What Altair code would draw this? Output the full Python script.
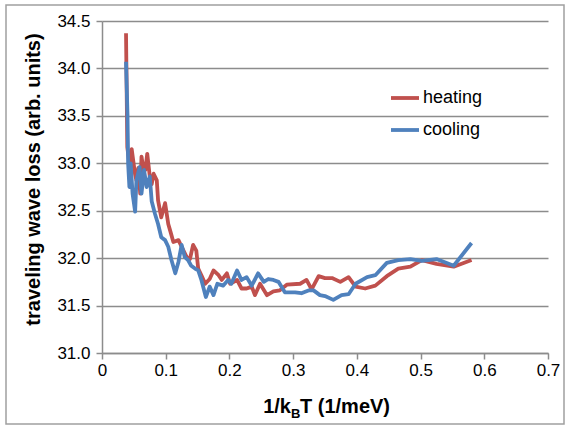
import altair as alt
import pandas as pd

# heating run: 1/kBT (1/meV) and traveling wave loss (arb. units)
heat_x = [0.0377, 0.0390, 0.0397, 0.0420, 0.0440, 0.0466, 0.0490, 0.0520, 0.0540, 0.0570,
          0.0600, 0.0620, 0.0650, 0.0680, 0.0710, 0.0750, 0.0780, 0.0810, 0.0860, 0.0880,
          0.0930, 0.0990, 0.1040, 0.1070, 0.1120, 0.1200, 0.1250, 0.1330, 0.1380, 0.1430,
          0.1480, 0.1510, 0.1560, 0.1620, 0.1690, 0.1750, 0.1830, 0.1880, 0.1960, 0.2010,
          0.2120, 0.2190, 0.2270, 0.2350, 0.2400, 0.2480, 0.2590, 0.2690, 0.2790, 0.2900,
          0.3110, 0.3210, 0.3290, 0.3400, 0.3500, 0.3610, 0.3740, 0.3870, 0.3980, 0.4130,
          0.4290, 0.4470, 0.4650, 0.4840, 0.5020, 0.5250, 0.5520, 0.5800]
heat_y = [34.37, 33.60, 33.17, 33.05, 32.90, 33.15, 33.03, 32.88, 32.82, 32.95,
          32.68, 33.07, 32.94, 32.93, 33.10, 32.86, 32.78, 32.89, 32.82, 32.61,
          32.43, 32.58, 32.36, 32.29, 32.17, 32.19, 32.12, 32.01, 31.99, 32.14,
          32.08, 31.89, 31.82, 31.73, 31.78, 31.87, 31.82, 31.77, 31.84, 31.73,
          31.77, 31.68, 31.68, 31.70, 31.61, 31.73, 31.61, 31.65, 31.66, 31.72,
          31.73, 31.77, 31.67, 31.81, 31.79, 31.79, 31.75, 31.80, 31.70, 31.68,
          31.71, 31.81, 31.89, 31.91, 31.98, 31.94, 31.91, 31.98]

# cooling run
cool_x = [0.0377, 0.0400, 0.0410, 0.0430, 0.0450, 0.0480, 0.0520, 0.0540, 0.0590, 0.0620,
          0.0660, 0.0700, 0.0750, 0.0780, 0.0830, 0.0880, 0.0930, 0.0990, 0.1040, 0.1090,
          0.1150, 0.1200, 0.1250, 0.1300, 0.1350, 0.1400, 0.1460, 0.1510, 0.1560, 0.1630,
          0.1690, 0.1750, 0.1810, 0.1900, 0.1980, 0.2030, 0.2120, 0.2190, 0.2270, 0.2350,
          0.2450, 0.2540, 0.2610, 0.2690, 0.2770, 0.2870, 0.3030, 0.3130, 0.3240, 0.3320,
          0.3420, 0.3500, 0.3630, 0.3760, 0.3870, 0.3980, 0.4160, 0.4290, 0.4470, 0.4650,
          0.4840, 0.5020, 0.5250, 0.5520, 0.5800]
cool_y = [34.07, 33.52, 33.00, 32.75, 33.00, 32.68, 32.49, 32.82, 32.96, 32.68,
          32.93, 32.75, 32.86, 32.60, 32.47, 32.36, 32.22, 32.19, 32.12, 31.98,
          31.84, 31.96, 32.14, 32.01, 31.98, 31.92, 31.89, 31.87, 31.77, 31.59,
          31.70, 31.61, 31.73, 31.71, 31.77, 31.73, 31.87, 31.77, 31.80, 31.71,
          31.84, 31.75, 31.78, 31.77, 31.75, 31.64, 31.64, 31.63, 31.66, 31.66,
          31.61, 31.60, 31.56, 31.61, 31.62, 31.73, 31.80, 31.82, 31.95, 31.98,
          31.99, 31.97, 31.99, 31.92, 32.16]

series_names = ["heating", "cooling"]
series_colors = ["#C0504D", "#4F81BD"]
x_ticks = [0, 0.1, 0.2, 0.3, 0.4, 0.5, 0.6, 0.7]
y_ticks = [31.0, 31.5, 32.0, 32.5, 33.0, 33.5, 34.0, 34.5]

rows = []
for i, (xv, yv) in enumerate(zip(heat_x, heat_y)):
    rows.append({"x": xv, "y": yv, "run": "heating", "i": i})
for i, (xv, yv) in enumerate(zip(cool_x, cool_y)):
    rows.append({"x": xv, "y": yv, "run": "cooling", "i": i})
df = pd.DataFrame(rows)

FONT = "Liberation Sans"
GRAY = "#8c8c8c"
W, H = 446, 332

lines = alt.Chart(df).mark_line(strokeWidth=3.8, strokeJoin="round").encode(
    x=alt.X("x:Q", scale=alt.Scale(domain=[0, 0.7], nice=False),
            axis=alt.Axis(values=x_ticks, format="~f", title=None, grid=False,
                          labelFlush=False,
                          tickSize=6, labelPadding=3, labelFontSize=17,
                          labelFont=FONT, labelColor="#000", domainColor=GRAY,
                          tickColor=GRAY, domainWidth=1.5, tickWidth=1.5)),
    y=alt.Y("y:Q", scale=alt.Scale(domain=[31.0, 34.5], nice=False, zero=False),
            axis=alt.Axis(values=y_ticks, format=".1f",
                          title="traveling wave loss (arb. units)",
                          titleFont=FONT, titleFontSize=20, titleFontWeight="bold",
                          titleColor="#000", titleX=-69, titleY=158,
                          titleAngle=-90, titleAlign="center", titleBaseline="middle",
                          grid=True, gridColor=GRAY, gridWidth=1.5,
                          tickSize=6, labelPadding=6, labelFontSize=17,
                          labelFont=FONT, labelColor="#000", domainColor=GRAY,
                          tickColor=GRAY, domainWidth=1.5, tickWidth=1.5)),
    color=alt.Color("run:N", scale=alt.Scale(domain=series_names, range=series_colors),
                    legend=alt.Legend(title=None, orient="none", legendX=287, legendY=61,
                                      symbolType="stroke", symbolSize=784,
                                      symbolStrokeWidth=3.8, labelFontSize=18,
                                      labelFont=FONT, labelColor="#000",
                                      labelOffset=2, rowPadding=7, padding=0)),
    detail="run:N",
    order="i:Q",
)

# x-axis title with subscript B
title_df = pd.DataFrame({"t": [0]})
t_main = alt.Chart(title_df).mark_text(text="1/k", font=FONT, fontSize=20, fontWeight="bold",
                                        align="right", baseline="alphabetic").encode(
    x=alt.value(189), y=alt.value(392))
t_sub = alt.Chart(title_df).mark_text(text="B", font=FONT, fontSize=13, fontWeight="bold",
                                       align="left", baseline="alphabetic").encode(
    x=alt.value(189), y=alt.value(397))
t_rest = alt.Chart(title_df).mark_text(text="T (1/meV)", font=FONT, fontSize=20,
                                        fontWeight="bold", align="left",
                                        baseline="alphabetic").encode(
    x=alt.value(198), y=alt.value(392))

# outer frame of the chart
frame = alt.Chart(title_df).mark_rect(fill=None, stroke="#a0a0a0", strokeWidth=1.5).encode(
    x=alt.value(-96), x2=alt.value(462), y=alt.value(-16), y2=alt.value(403))

chart = alt.layer(frame, lines, t_main, t_sub, t_rest).properties(
    width=W, height=H,
    autosize=alt.AutoSizeParams(type="none"),
    padding={"left": 102, "top": 21, "right": 17, "bottom": 73},
    background="white",
).configure_view(stroke=None)

chart.save("out.html", embed_options={"renderer": "svg", "actions": False})
